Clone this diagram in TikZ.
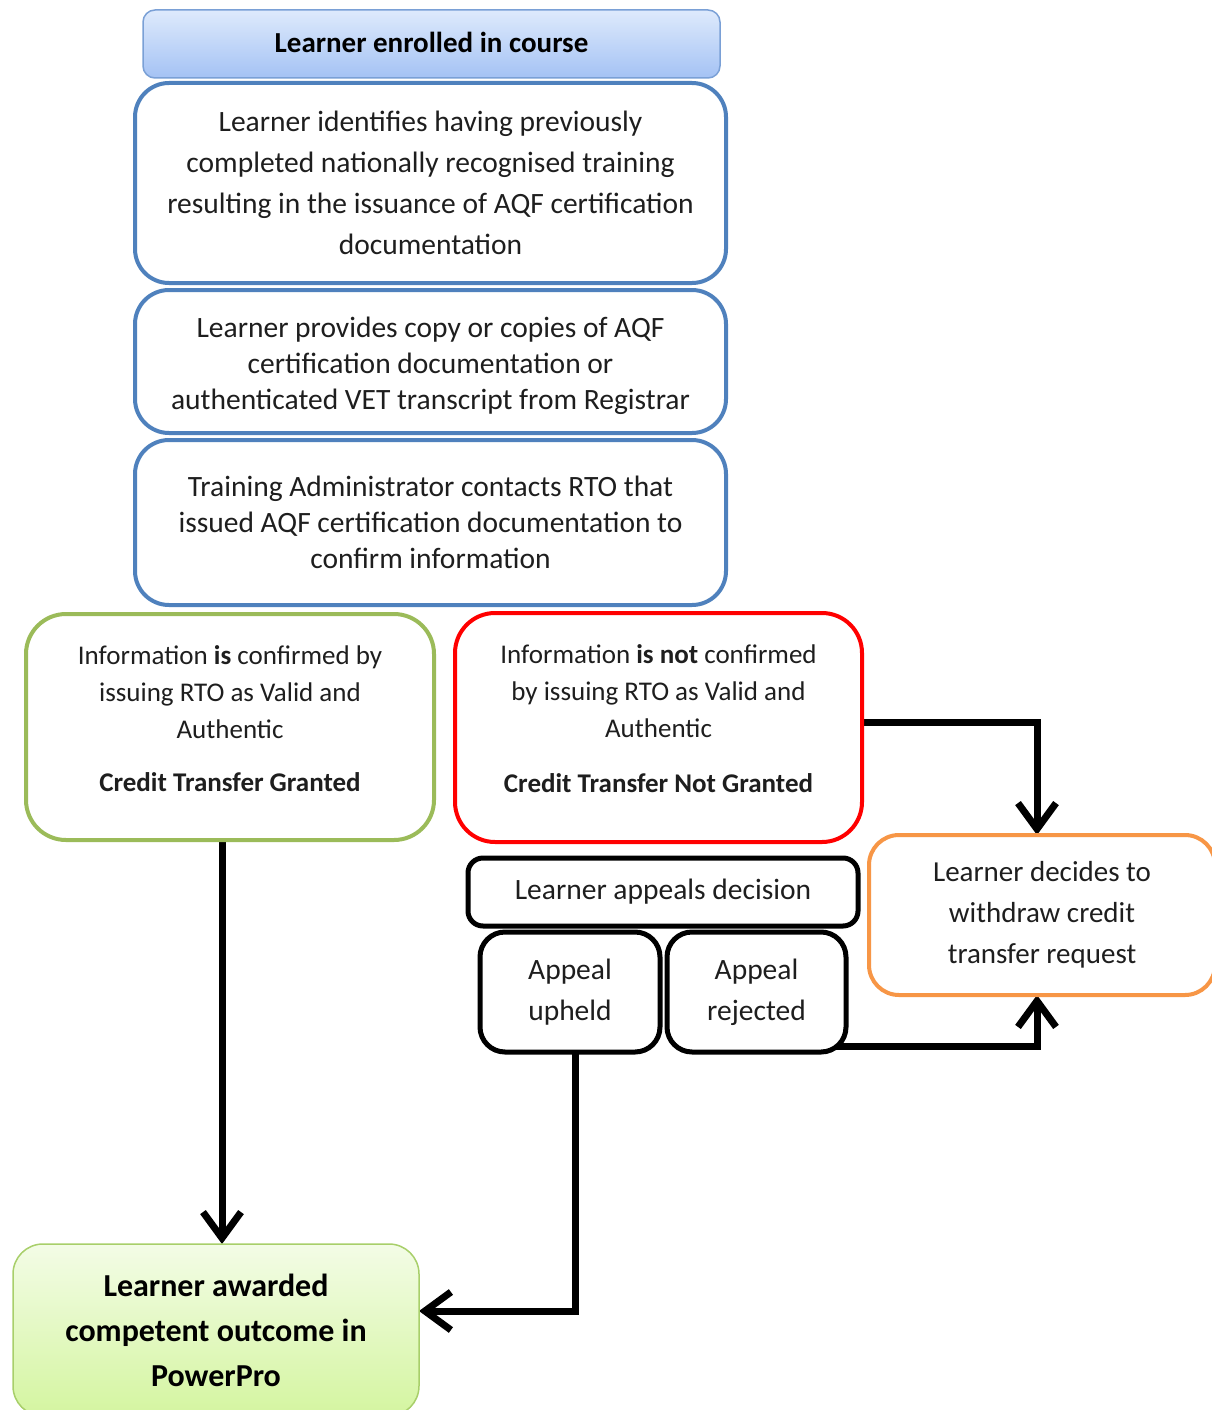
\documentclass[tikz,border=0pt]{standalone}
\usepackage{fontspec}
\setmainfont{Carlito}
\usetikzlibrary{arrows.meta,backgrounds}
\definecolor{bluebd}{HTML}{4F81BD}
\definecolor{greenbd}{HTML}{9BBB59}
\definecolor{orangebd}{HTML}{F79646}
\definecolor{txt}{HTML}{1E1E1E}
\tikzset{
  box/.style={draw, fill=white, rounded corners=#1, inner sep=0pt, outer sep=0pt, align=center, text=txt},
  box/.default=30pt,
  bluebox/.style={box=34pt, draw=bluebd, line width=4pt, minimum width=591pt},
  blackbox/.style={box=#1, draw=black, line width=5pt},
  conn/.style={line width=7pt, -{Straight Barb[length=26pt,width=38pt,line width=7pt]}},
  txtnode/.style={inner sep=0pt, align=center, text=txt},
  f29/.style={font=\fontsize{29.5}{36}\selectfont},
  f27/.style={font=\fontsize{27}{37}\selectfont}
}
\begin{document}
\begin{tikzpicture}[x=1pt,y=-1pt]
\useasboundingbox (0,0) rectangle (1211,1410);
% top title
\node[box=12pt, draw={rgb,255:red,122;green,160;blue,214}, line width=1.5pt,
  top color={rgb,255:red,222;green,234;blue,252}, bottom color={rgb,255:red,164;green,194;blue,244},
  minimum width=577pt, minimum height=68pt]
  (enrol) at (431.5,44) {};
\node[txtnode, font=\bfseries\fontsize{29}{30}\selectfont, text=black] (enroltext) at ([yshift=2pt]enrol.center) {Learner enrolled in course};
\node[bluebox, minimum height=200pt, font=\fontsize{29.5}{41}\selectfont]
  (ident) at (430.5,183) {Learner identifies having previously\\completed nationally recognised training\\resulting in the issuance of AQF certification\\documentation};
\node[bluebox, minimum height=143pt]
  (provide) at (430.5,361.5) {};
\node[txtnode, f29] (providetext) at ([yshift=-4pt]provide.center)
  {Learner provides copy or copies of AQF\\certification documentation or\\authenticated VET transcript from Registrar};
\node[bluebox, minimum height=165pt, f29]
  (contact) at (430.5,522.5) {Training Administrator contacts RTO that\\issued AQF certification documentation to\\confirm information};
\node[box=40pt, draw=greenbd, line width=4pt, minimum width=408pt, minimum height=226pt]
  (granted) at (230,727) {};
\node[txtnode, f27] (grantedtext) at ([yshift=8pt]granted.center)
  {Information \textbf{is} confirmed by\\issuing RTO as Valid and\\Authentic\\[16pt]\textbf{Credit Transfer Granted}};
\node[box=40pt, draw=red, line width=4pt, minimum width=407pt, minimum height=229pt]
  (notgr) at (658.5,727.5) {};
\node[txtnode, f27] (notgrtext) at ([yshift=9pt]notgr.center)
  {Information \textbf{is not} confirmed\\by issuing RTO as Valid and\\Authentic\\[18pt]\textbf{Credit Transfer Not Granted}};
\node[blackbox=15pt, minimum width=390pt, minimum height=68pt, f29]
  (appeal) at (663,892) {Learner appeals decision};
\node[blackbox=25pt, minimum width=180pt, minimum height=120pt, font=\fontsize{29.5}{41}\selectfont]
  (upheld) at (570,992) {Appeal\\upheld};
\node[blackbox=25pt, minimum width=179pt, minimum height=120pt, font=\fontsize{29.5}{41}\selectfont]
  (rejected) at (756.5,992) {Appeal\\rejected};
\node[box=30pt, draw=orangebd, line width=4pt, minimum width=346pt, minimum height=160pt, font=\fontsize{29}{41}\selectfont]
  (withdraw) at (1042,915) {Learner decides to\\withdraw credit\\transfer request};
\node[box=30pt, draw={rgb,255:red,168;green,207;blue,106}, line width=1.5pt,
  top color={rgb,255:red,243;green,252;blue,230}, bottom color={rgb,255:red,212;green,245;blue,160},
  minimum width=406pt, minimum height=172pt, font=\bfseries\fontsize{32}{45}\selectfont, text=black]
  (award) at (216,1330) {Learner awarded\\competent outcome in\\PowerPro};
\coordinate (awin) at ([yshift=19pt]award.east);
\coordinate (upout) at ([xshift=5pt]upheld.south);
\coordinate (wdtop) at ([xshift=-5pt]withdraw.north);
\coordinate (wdbot) at ([xshift=-5pt]withdraw.south);
\coordinate (nrout) at ([yshift=5pt]notgr.east);
\coordinate (rjout) at ([xshift=-15pt,yshift=6pt]rejected.south east);
\coordinate (grout) at ([xshift=6pt]award.north |- granted.south);
\coordinate (awtop) at ([xshift=6pt]award.north);
\begin{scope}[on background layer]
\draw[conn] (grout) -- (awtop);
\draw[conn] (upout) -- (upout |- awin) -- (awin);
\draw[conn] (nrout) -- (wdtop |- nrout) -- (wdtop);
\draw[conn] (rjout) -- (wdbot |- rjout) -- (wdbot);
\end{scope}
\end{tikzpicture}
\end{document}
